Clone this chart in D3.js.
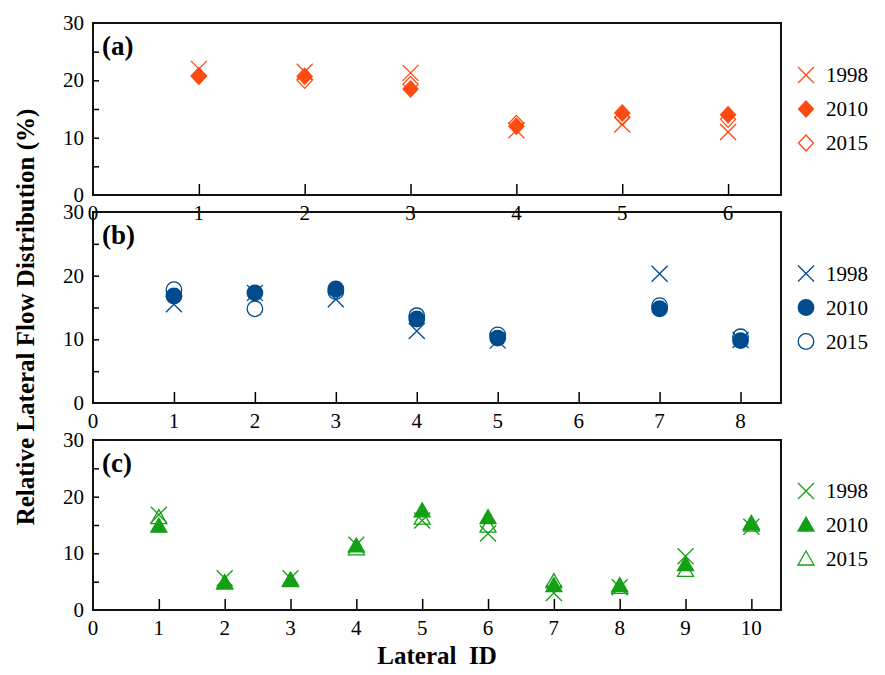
<!DOCTYPE html>
<html><head><meta charset="utf-8">
<script src="https://cdn.jsdelivr.net/npm/d3@7"></script>
<style>body{margin:0;background:#fff}text{font-family:"Liberation Serif","DejaVu Serif",serif}</style>
</head><body><svg id="chart" width="885" height="675"></svg>
<script>
"use strict";
const YEARS = ["1998", "2010", "2015"];
// panel (a)
const A_IDS = [1, 2, 3, 4, 5, 6];
const A_1998 = [22, 21.5, 21.3, 11.3, 12.3, 11];
const A_2010 = [20.8, 20.7, 18.5, 12, 14.3, 14];
const A_2015 = [20.7, 20, 19.3, 12.5, 13.5, 13.2];
// panel (b) - lateral 6 has no data
const B_IDS = [1, 2, 3, 4, 5, 7, 8];
const B_1998 = [15.5, 17.3, 16.3, 11.3, 9.8, 20.3, 9.9];
const B_2010 = [16.8, 17.3, 17.9, 13.2, 10.2, 14.8, 9.8];
const B_2015 = [17.8, 14.8, 17.5, 13.7, 10.7, 15.3, 10.4];
// panel (c)
const C_IDS = [1, 2, 3, 4, 5, 6, 7, 8, 9, 10];
const C_1998 = [16.8, 5.6, 5.6, 11.5, 15.8, 13.5, 3, 4, 9.5, 14.7];
const C_2010 = [14.8, 4.8, 5.2, 11.3, 17.5, 16.3, 4.3, 4.3, 8, 15.3];
const C_2015 = [16.3, 4.8, 5.3, 10.8, 16.2, 14.8, 5, 4, 7, 15];

const PANELS = [
  { label: "(a)", ids: A_IDS, series: [A_1998, A_2010, A_2015], xmax: 6.5, color: "#ff4a12", shape: "diamond", top: 23, bottom: 195 },
  { label: "(b)", ids: B_IDS, series: [B_1998, B_2010, B_2015], xmax: 8.5, color: "#004b8d", shape: "circle", top: 212, bottom: 403 },
  { label: "(c)", ids: C_IDS, series: [C_1998, C_2010, C_2015], xmax: 10.45, color: "#14a014", shape: "triangle", top: 440, bottom: 610 }
];
const LEFT = 93, RIGHT = 781;
const svg = d3.select("#chart");

function marker(g, kind, filled, color, x, y) {
  let d;
  if (kind === "cross") {
    g.append("path").attr("d", `M${x-8},${y-8}L${x+8},${y+8}M${x-8},${y+8}L${x+8},${y-8}`)
      .attr("stroke", color).attr("stroke-width", 1.3).attr("fill", "none");
    return;
  }
  if (kind === "diamond") d = `M${x},${y-8}L${x+7.5},${y}L${x},${y+8}L${x-7.5},${y}Z`;
  else if (kind === "circle") d = d3.symbol(d3.symbolCircle, 190)().replace(/^/, "");
  else d = `M${x},${y-8}L${x+8},${y+6}L${x-8},${y+6}Z`;
  const p = g.append("path").attr("d", d)
    .attr("fill", filled ? color : "none").attr("stroke", color).attr("stroke-width", 1.3);
  if (kind === "circle") p.attr("transform", `translate(${x},${y})`);
}

PANELS.forEach(function(p) {
  const x = d3.scaleLinear().domain([0, p.xmax]).range([LEFT, RIGHT]);
  const y = d3.scaleLinear().domain([0, 30]).range([p.bottom, p.top]);
  const g = svg.append("g");

  // inner ticks
  g.append("g").attr("transform", `translate(0,${p.bottom})`)
    .call(d3.axisTop(x).tickValues(d3.range(1, Math.floor(p.xmax) + 1)).tickSize(11).tickFormat(""))
    .call(a => a.select(".domain").remove())
    .call(a => a.selectAll("line").attr("stroke-width", 1.5));
  g.append("g").attr("transform", `translate(${LEFT},0)`)
    .call(d3.axisRight(y).tickValues(d3.range(5, 30, 5)).tickSize(6).tickFormat(""))
    .call(a => a.select(".domain").remove())
    .call(a => a.selectAll("line").attr("stroke-width", 1.5));

  // tick labels
  g.selectAll(".xl").data(d3.range(0, Math.floor(p.xmax) + 1)).join("text")
    .attr("x", d => x(d)).attr("y", p.bottom + 25).attr("text-anchor", "middle")
    .attr("font-size", 21).text(d => d);
  g.selectAll(".yl").data([0, 10, 20, 30]).join("text")
    .attr("x", LEFT - 9).attr("y", d => y(d) + 7).attr("text-anchor", "end")
    .attr("font-size", 21).text(d => d);

  g.append("rect").attr("x", LEFT).attr("y", p.top).attr("width", RIGHT - LEFT).attr("height", p.bottom - p.top)
    .attr("fill", "none").attr("stroke", "#111").attr("stroke-width", 2);
  g.append("text").attr("x", LEFT + 9).attr("y", p.top + 32).attr("font-size", 27).attr("font-weight", "bold").text(p.label);

  // points: 2015 open, 2010 filled, 1998 cross
  const kinds = ["cross", p.shape, p.shape];
  const fills = [false, true, false];
  [2, 1, 0].forEach(function(s) {
    p.series[s].forEach(function(v, i) {
      marker(g, kinds[s], fills[s], p.color, x(p.ids[i]), y(v));
    });
  });

  // legend
  const mid = (p.top + p.bottom) / 2;
  YEARS.forEach(function(yr, i) {
    const ly = mid - 34 + i * 34;
    marker(g, kinds[i], fills[i], p.color, 806, ly);
    g.append("text").attr("x", 826).attr("y", ly + 7).attr("font-size", 21).text(yr);
  });
});

svg.append("text").attr("transform", "translate(34,317) rotate(-90)").attr("text-anchor", "middle")
  .attr("font-size", 25).attr("font-weight", "bold").text("Relative Lateral Flow Distribution (%)");
svg.append("text").attr("x", 437).attr("y", 664).attr("text-anchor", "middle").attr("xml:space", "preserve")
  .attr("font-size", 25).attr("font-weight", "bold").text("Lateral  ID");
</script></body></html>
